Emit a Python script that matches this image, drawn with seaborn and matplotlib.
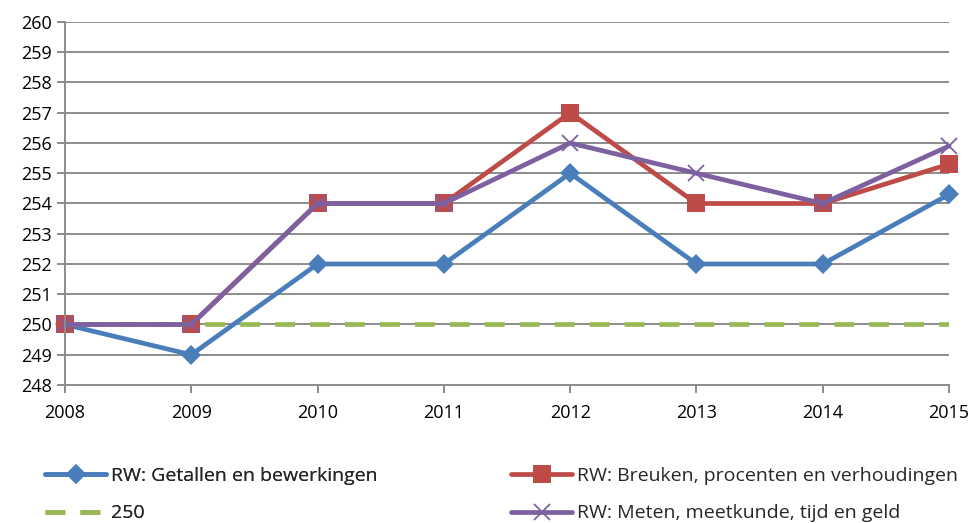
import matplotlib
matplotlib.use("Agg")
import matplotlib.pyplot as plt
import seaborn as sns

years = [2008, 2009, 2010, 2011, 2012, 2013, 2014, 2015]
getallen = [250, 249, 252, 252, 255, 252, 252, 254.3]
breuken = [250, 250, 254, 254, 257, 254, 254, 255.3]
ref250 = [250, 250, 250, 250, 250, 250, 250, 250]
meten = [250, 250, 254, 254, 256, 255, 254, 255.9]

labels = ["RW: Getallen en bewerkingen",
          "RW: Breuken, procenten en verhoudingen",
          "250",
          "RW: Meten, meetkunde, tijd en geld"]
colors = ["#4A7EBB", "#BE4B48", "#98B954", "#7D60A0"]

sns.set_theme(style="white")
plt.rcParams["font.family"] = ["Open Sans", "DejaVu Sans"]

fig = plt.figure(figsize=(9.75, 5.23), dpi=100)
ax = fig.add_axes([65/975, 1-385/523, (949-65)/975, (385-22)/523])

LW = 3.4
sns.lineplot(x=years, y=getallen, ax=ax, color=colors[0], lw=LW,
             marker="D", markersize=10, markeredgewidth=0,
             markeredgecolor=colors[0], label=labels[0], clip_on=False)
sns.lineplot(x=years, y=breuken, ax=ax, color=colors[1], lw=LW,
             marker="s", markersize=13, markeredgewidth=0,
             markeredgecolor=colors[1], label=labels[1], clip_on=False)
sns.lineplot(x=years, y=ref250, ax=ax, color=colors[2], lw=LW, label=labels[2])
ax.lines[-1].set_dashes((4.2, 3.2))
sns.lineplot(x=years, y=meten, ax=ax, color=colors[3], lw=LW,
             marker="x", markersize=12, markeredgewidth=1.3,
             markeredgecolor=colors[3], label=labels[3], clip_on=False)

ax.set_xlim(2008, 2015)
ax.set_ylim(248, 260)
ax.set_yticks(range(248, 261))
ax.set_xticks(years)
ax.set_xticklabels([str(y) for y in years])
ax.grid(axis="y", color="#8c8c8c", lw=1.4)
ax.grid(axis="x", visible=False)
ax.set_axisbelow(True)
for s in ["top", "right"]:
    ax.spines[s].set_visible(False)
for s in ["left", "bottom"]:
    ax.spines[s].set_color("#8c8c8c")
    ax.spines[s].set_linewidth(1.4)
ax.tick_params(axis="both", which="both", length=5.5, width=1.4, color="#8c8c8c",
               labelsize=13, labelcolor="black", direction="out", bottom=True, left=True)
ax.tick_params(axis="x", pad=8)
ax.tick_params(axis="y", pad=4)
ax.set_xlabel("")
ax.set_ylabel("")

handles, labs = ax.get_legend_handles_labels()
ax.get_legend().remove()
legkw = dict(loc="upper left", frameon=False, fontsize=14, handlelength=3.15,
             handletextpad=0.25, labelspacing=1.0, borderaxespad=0, borderpad=0)
leg1 = fig.legend([handles[0], handles[2]], [labs[0], labs[2]],
                  bbox_to_anchor=(45/975, 1-467/523), **legkw)
fig.add_artist(leg1)
leg2 = fig.legend([handles[1], handles[3]], [labs[1], labs[3]],
                  bbox_to_anchor=(511/975, 1-467/523), **legkw)

fig.savefig("out.png", dpi=100)
